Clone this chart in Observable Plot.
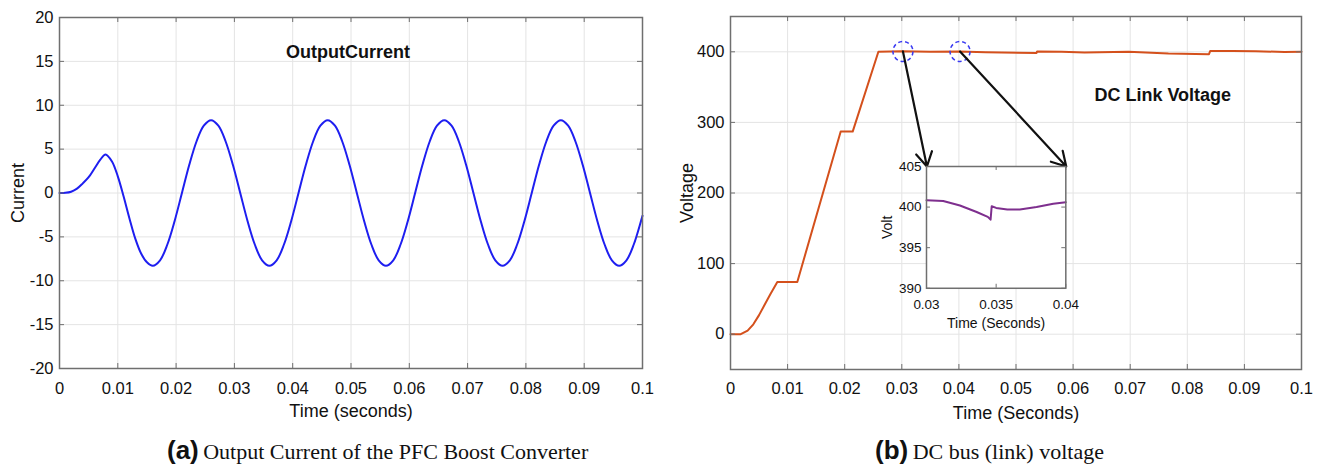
<!DOCTYPE html>
<html><head><meta charset="utf-8">
<script src="https://cdn.jsdelivr.net/npm/d3@7"></script>
<script src="https://cdn.jsdelivr.net/npm/@observablehq/plot@0.6"></script>
<style>
body{margin:0;background:#fff;width:1324px;height:465px;position:relative;overflow:hidden;font-family:"Liberation Sans",Arial,sans-serif;}
#a,#b,#inset{position:absolute;}
#a{left:0;top:0}
#b{left:662px;top:0}
.cap{position:absolute;top:435px;white-space:nowrap;line-height:30px;color:#111;}
.cap b{font-family:"Liberation Sans",Arial,sans-serif;font-size:26px;font-weight:bold;}
.cap span{font-family:"Liberation Serif","Times New Roman",serif;font-size:22px;}
</style></head><body>
<div id="a"></div><div id="b"></div><div id="inset"></div>
<div class="cap" style="left:167px"><b>(a)</b> <span>Output Current of the PFC Boost Converter</span></div>
<div class="cap" style="left:875px"><b>(b)</b> <span>DC bus (link) voltage</span></div>
<script>
// ---------- data ----------
const xTicks = [0,0.01,0.02,0.03,0.04,0.05,0.06,0.07,0.08,0.09,0.1];
const xTickLabels = ["0","0.01","0.02","0.03","0.04","0.05","0.06","0.07","0.08","0.09","0.1"];
const yTicksA = [-20,-15,-10,-5,0,5,10,15,20];
const yTickLabelsA = ["-20","-15","-10","-5","0","5","10","15","20"];
const yTicksB = [0,100,200,300,400];
const yTickLabelsB = ["0","100","200","300","400"];
const xTicksIn = [0.03,0.035,0.04];
const xTickLabelsIn = ["0.03","0.035","0.04"];
const yTicksIn = [390,395,400,405];
const yTickLabelsIn = ["390","395","400","405"];

// Output current (A)
const timeA = [0,0.001,0.002,0.003,0.004,0.005,0.006,0.007,0.0079,0.009,0.010,0.011,0.012,0.013,0.014,0.015,0.016,
  0.01725,0.0185,0.01975,0.021,0.02225,0.0235,0.02475,0.026,0.02725,0.0285,0.02975,0.031,0.03225,0.0335,0.03475,0.036,
  0.03725,0.0385,0.03975,0.041,0.04225,0.0435,0.04475,0.046,0.04725,0.0485,0.04975,0.051,0.05225,0.0535,0.05475,0.056,
  0.05725,0.0585,0.05975,0.061,0.06225,0.0635,0.06475,0.066,0.06725,0.0685,0.06975,0.071,0.07225,0.0735,0.07475,0.076,
  0.07725,0.0785,0.07975,0.081,0.08225,0.0835,0.08475,0.086,0.08725,0.0885,0.08975,0.091,0.09225,0.0935,0.09475,0.096,
  0.09725,0.0985,0.09975,0.1];
const currentA = [0,0.02,0.15,0.5,1.1,1.8,2.8,3.8,4.4,3.6,1.9,-0.4,-2.9,-5.2,-6.9,-7.9,-8.3,
  -7.67,-5.87,-3.18,0,3.18,5.87,7.67,8.3,7.67,5.87,3.18,0,-3.18,-5.87,-7.67,-8.3,
  -7.67,-5.87,-3.18,0,3.18,5.87,7.67,8.3,7.67,5.87,3.18,0,-3.18,-5.87,-7.67,-8.3,
  -7.67,-5.87,-3.18,0,3.18,5.87,7.67,8.3,7.67,5.87,3.18,0,-3.18,-5.87,-7.67,-8.3,
  -7.67,-5.87,-3.18,0,3.18,5.87,7.67,8.3,7.67,5.87,3.18,0,-3.18,-5.87,-7.67,-8.3,
  -7.67,-5.87,-3.18,-2.6];

// DC link voltage (V)
const timeB = [0,0.0018,0.003,0.004,0.005,0.006,0.007,0.0082,0.0117,0.0193,0.0214,0.0259,0.030,0.035,0.040,0.0447,0.0536,0.0537,0.058,0.062,0.0697,0.0767,0.0838,0.0840,0.088,0.092,0.097,0.1];
const voltageB = [0,0,5,14,27,42,57,74,74,287,287,400,400.8,399.9,400.6,399.5,398.3,400.5,400.2,399,400,397.5,396.7,401,401,400.8,399.8,400];

// Inset zoom (V)
const timeIn = [0.03,0.0312,0.0324,0.0336,0.0344,0.0346,0.03468,0.035,0.0358,0.0367,0.0379,0.0391,0.04];
const voltIn = [400.85,400.75,400.2,399.4,398.8,398.45,400.1,399.9,399.7,399.7,400.0,400.4,400.6];

// zoom markers and inset placement (in main-chart data units)
const zoomTimes = [0.0302,0.0402];
const zoomVolts = [400.5,400.5];
const insetT = [0.0344,0.0588];
const insetV = [65,237.5];

// ---------- helpers ----------
const fmt = (ticks, labels) => { const m = new Map(ticks.map((t,i)=>[t,labels[i]])); return d => m.get(d); };
const FONT = '"Liberation Sans", Arial, sans-serif';
const GRID = "#e4e4e4", FRAME = "#6f6f6f";

// ---------- chart (a) ----------
const A = {w:662,h:425,mt:17,mr:20,mb:57,ml:59};
const fwA = A.w-A.ml-A.mr, fhA = A.h-A.mt-A.mb;
const dataA = timeA.map((t,i)=>({t, v:currentA[i]}));
const chartA = Plot.plot({
  width:A.w,height:A.h,marginTop:A.mt,marginRight:A.mr,marginBottom:A.mb,marginLeft:A.ml,
  style:{fontFamily:FONT,fontSize:"16.5px",color:"#111",background:"transparent"},
  x:{domain:[0,0.1],ticks:xTicks,tickFormat:fmt(xTicks,xTickLabels),tickSize:0,tickPadding:14,label:null},
  y:{domain:[-20,20],ticks:yTicksA,tickFormat:fmt(yTicksA,yTickLabelsA),tickSize:0,tickPadding:6,label:null},
  marks:[
    Plot.ruleX(xTicks,{stroke:GRID}),
    Plot.ruleY(yTicksA,{stroke:GRID}),
    Plot.line(dataA,{x:"t",y:"v",stroke:"#1e1ef0",strokeWidth:2,curve:"catmull-rom"}),
    Plot.ruleX(xTicks,{stroke:FRAME,insetTop:fhA-5}),
    Plot.ruleX(xTicks,{stroke:FRAME,insetBottom:fhA-5}),
    Plot.ruleY(yTicksA,{stroke:FRAME,insetRight:fwA-5}),
    Plot.ruleY(yTicksA,{stroke:FRAME,insetLeft:fwA-5}),
    Plot.frame({stroke:FRAME,strokeWidth:1.5}),
    Plot.text([{t:0.0495,v:16,s:"OutputCurrent"}],{x:"t",y:"v",text:"s",fontWeight:"bold",fontSize:18}),
    Plot.text(["Time (seconds)"],{frameAnchor:"bottom",dy:42.5,lineAnchor:"middle",textAnchor:"middle",fontSize:18}),
    Plot.text(["Current"],{frameAnchor:"left",dx:-41,rotate:-90,textAnchor:"middle",lineAnchor:"middle",fontSize:18})
  ]
});
document.getElementById("a").appendChild(chartA);

// ---------- chart (b) ----------
const B = {w:662,h:425,mt:16,mr:23,mb:56,ml:68};
const fwB = B.w-B.ml-B.mr, fhB = B.h-B.mt-B.mb;
const domXB = [0,0.1], domYB = [-50,450];
const dataB = timeB.map((t,i)=>({t, v:voltageB[i]}));
const arrows = [
  {x1:zoomTimes[0],y1:zoomVolts[0],x2:insetT[0],y2:insetV[1]},
  {x1:zoomTimes[1],y1:zoomVolts[1],x2:insetT[1],y2:insetV[1]}
];
const circles = zoomTimes.map((t,i)=>({t, v:zoomVolts[i]}));
const chartB = Plot.plot({
  width:B.w,height:B.h,marginTop:B.mt,marginRight:B.mr,marginBottom:B.mb,marginLeft:B.ml,
  style:{fontFamily:FONT,fontSize:"16.5px",color:"#111",background:"transparent"},
  x:{domain:domXB,ticks:xTicks,tickFormat:fmt(xTicks,xTickLabels),tickSize:0,tickPadding:13,label:null},
  y:{domain:domYB,ticks:yTicksB,tickFormat:fmt(yTicksB,yTickLabelsB),tickSize:0,tickPadding:6,label:null},
  marks:[
    Plot.ruleX(xTicks,{stroke:GRID}),
    Plot.ruleY(yTicksB,{stroke:GRID}),
    Plot.line(dataB,{x:"t",y:"v",stroke:"#d4501c",strokeWidth:2}),
    Plot.ruleX(xTicks,{stroke:FRAME,insetTop:fhB-5}),
    Plot.ruleX(xTicks,{stroke:FRAME,insetBottom:fhB-5}),
    Plot.ruleY(yTicksB,{stroke:FRAME,insetRight:fwB-5}),
    Plot.ruleY(yTicksB,{stroke:FRAME,insetLeft:fwB-5}),
    Plot.frame({stroke:FRAME,strokeWidth:1.5}),
    Plot.dot(circles,{x:"t",y:"v",r:10,stroke:"#3a3af2",strokeWidth:1.5,strokeDasharray:"4,3",fill:"none"}),
    Plot.arrow(arrows,{x1:"x1",y1:"y1",x2:"x2",y2:"y2",stroke:"#111",strokeWidth:2.2,headLength:11}),
    Plot.text([{t:0.0757,v:338,s:"DC Link Voltage"}],{x:"t",y:"v",text:"s",fontWeight:"bold",fontSize:18}),
    Plot.text(["Time (Seconds)"],{frameAnchor:"bottom",dy:44,lineAnchor:"middle",textAnchor:"middle",fontSize:18}),
    Plot.text(["Voltage"],{frameAnchor:"left",dx:-43,rotate:-90,textAnchor:"middle",lineAnchor:"middle",fontSize:18})
  ]
});
document.getElementById("b").appendChild(chartB);

// ---------- inset ----------
const pxB = t => B.ml + (t-domXB[0])/(domXB[1]-domXB[0])*fwB;
const pyB = v => B.mt + (domYB[1]-v)/(domYB[1]-domYB[0])*fhB;
const I = {mt:6,mr:14,mb:50,ml:46};
const fwI = pxB(insetT[1])-pxB(insetT[0]);
const fhI = pyB(insetV[0])-pyB(insetV[1]);
const dataIn = timeIn.map((t,i)=>({t, v:voltIn[i]}));
const chartIn = Plot.plot({
  width:fwI+I.ml+I.mr,height:fhI+I.mt+I.mb,marginTop:I.mt,marginRight:I.mr,marginBottom:I.mb,marginLeft:I.ml,
  style:{fontFamily:FONT,fontSize:"13.5px",color:"#111",background:"transparent"},
  x:{domain:[0.03,0.04],ticks:xTicksIn,tickFormat:fmt(xTicksIn,xTickLabelsIn),tickSize:0,tickPadding:11,label:null},
  y:{domain:[390,405],ticks:yTicksIn,tickFormat:fmt(yTicksIn,yTickLabelsIn),tickSize:0,tickPadding:5,label:null},
  marks:[
    Plot.frame({fill:"white"}),
    Plot.line(dataIn,{x:"t",y:"v",stroke:"#7e2f8e",strokeWidth:2}),
    Plot.ruleX(xTicksIn,{stroke:FRAME,insetTop:fhI-4}),
    Plot.ruleX(xTicksIn,{stroke:FRAME,insetBottom:fhI-4}),
    Plot.ruleY(yTicksIn,{stroke:FRAME,insetRight:fwI-4}),
    Plot.ruleY(yTicksIn,{stroke:FRAME,insetLeft:fwI-4}),
    Plot.frame({stroke:FRAME,strokeWidth:1.5}),
    Plot.text(["Time (Seconds)"],{frameAnchor:"bottom",dy:35,lineAnchor:"middle",textAnchor:"middle",fontSize:14}),
    Plot.text(["Volt"],{frameAnchor:"left",dx:-39,rotate:-90,textAnchor:"middle",lineAnchor:"middle",fontSize:14})
  ]
});
const insetDiv = document.getElementById("inset");
insetDiv.style.left = (662 + pxB(insetT[0]) - I.ml) + "px";
insetDiv.style.top = (pyB(insetV[1]) - I.mt) + "px";
insetDiv.appendChild(chartIn);
</script>
</body></html>
